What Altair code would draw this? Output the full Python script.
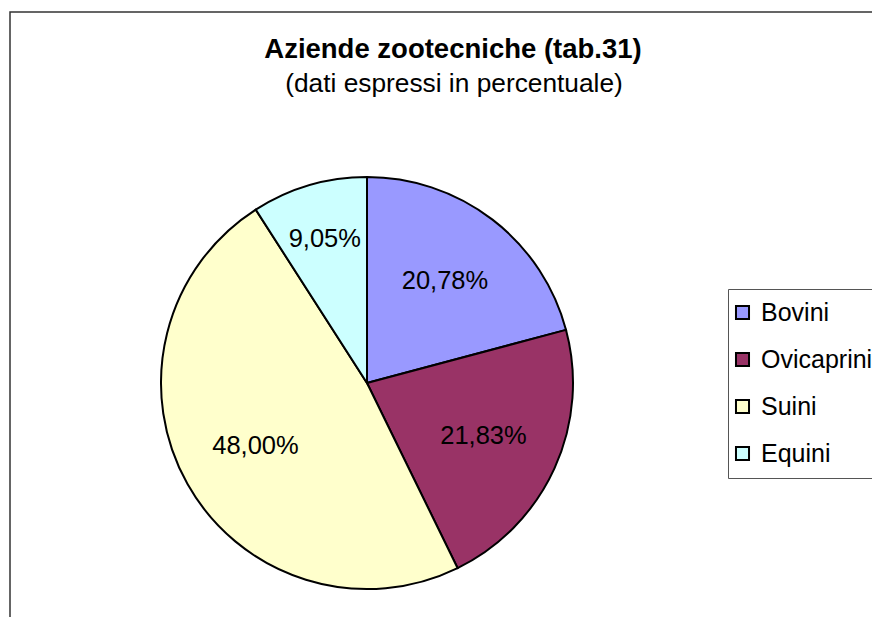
import altair as alt
import pandas as pd

categories = ["Bovini", "Ovicaprini", "Suini", "Equini"]
values = [20.78, 21.83, 48.00, 9.05]
colors = ["#9999FF", "#993366", "#FFFFCC", "#CCFFFF"]

title_text = "Aziende zootecniche (tab.31)"
subtitle_text = "(dati espressi in percentuale)"

FONT = "Liberation Sans"

df = pd.DataFrame({"categoria": categories, "value": values, "idx": list(range(len(categories)))})

cx, cy, R = 359, 375, 206

frame = alt.Chart(alt.Data(values=[{}])).mark_rect(
    fill="white", stroke="#333333", strokeWidth=1.5
).encode(x=alt.value(2), y=alt.value(4), x2=alt.value(1200), y2=alt.value(1200))

pie = alt.Chart(df).mark_arc(radius=R, stroke="black", strokeWidth=2).encode(
    theta=alt.Theta("value:Q", stack=True),
    order=alt.Order("idx:Q"),
    color=alt.Color(
        "categoria:N",
        scale=alt.Scale(domain=categories, range=colors),
        legend=alt.Legend(
            title=None,
            orient="none",
            legendX=720,
            legendY=281,
            symbolType="square",
            symbolSize=170,
            symbolStrokeColor="black",
            symbolStrokeWidth=2,
            symbolOpacity=1,
            symbolOffset=-9,
            labelFont=FONT,
            labelFontSize=25,
            labelColor="black",
            labelOffset=6,
            rowPadding=21,
            padding=11,
            strokeColor="#555555",
            fillColor="white",
            labelLimit=300,
        ),
    ),
    x=alt.value(cx),
    y=alt.value(cy),
)

labels = alt.Chart(df).transform_joinaggregate(
    total="sum(value)"
).transform_window(
    cum="sum(value)", sort=[alt.SortField("idx")], frame=[None, 0]
).transform_calculate(
    mid="(datum.cum - datum.value / 2) / datum.total * 2 * PI",
    lr="datum.value < 10 ? 150 : 128",
    label="replace(format(datum.value, '.2f'), '.', ',') + '%'",
).mark_text(font=FONT, fontSize=25.5, color="black").encode(
    theta=alt.Theta("mid:Q", scale=None, stack=False),
    radius=alt.Radius("lr:Q", scale=None),
    text="label:N",
    x=alt.value(cx),
    y=alt.value(cy),
)

one = alt.Data(values=[{}])
title = alt.Chart(one).mark_text(
    font=FONT, fontSize=27.5, fontWeight="bold", color="black", baseline="alphabetic"
).encode(x=alt.value(445), y=alt.value(50), text=alt.value(title_text))
subtitle = alt.Chart(one).mark_text(
    font=FONT, fontSize=26.3, color="black", baseline="alphabetic"
).encode(x=alt.value(446), y=alt.value(84), text=alt.value(subtitle_text))

chart = alt.layer(frame, pie, labels, title, subtitle).properties(
    width=864, height=609, padding=0, autosize=alt.AutoSizeParams(type="none")
).configure_view(stroke=None)

chart.save("out.html", embed_options={"renderer": "svg", "actions": False})
